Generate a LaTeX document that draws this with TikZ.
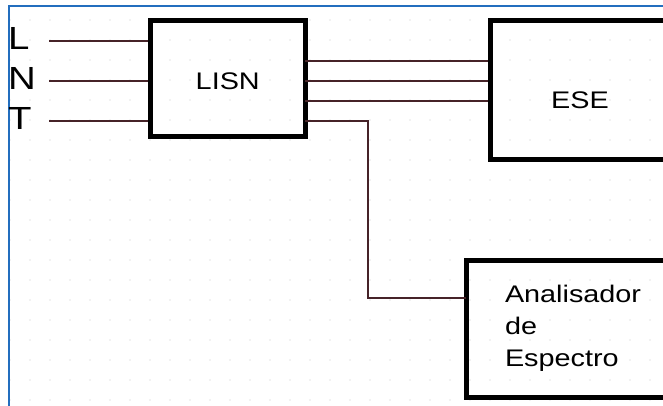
\documentclass[tikz,border=0pt]{standalone}
\usepackage{fontspec}
\setmainfont{Liberation Sans}
\newfontfamily\diafont[FakeStretch=1.2]{Liberation Sans}
\definecolor{wirecol}{RGB}{70,35,40}
\definecolor{framecol}{RGB}{35,110,190}
\definecolor{dotcol}{RGB}{200,200,200}
\begin{document}
\begin{tikzpicture}[x=1pt,y=-1pt,
  box/.style={draw=black, line width=5pt, rectangle, inner sep=0pt},
  wire/.style={draw=wirecol, line width=1.5pt},
  lbl/.style={font=\diafont\fontsize{32}{32}\selectfont, inner sep=0pt, anchor=west},
  boxtext/.style={font=\diafont\fontsize{24}{32}\selectfont}]
\useasboundingbox (0,0) rectangle (663,406);
\fill[white] (0,0) rectangle (663,406);
\begin{scope}
\clip (0,0) rectangle (663,406);
\foreach \x in {10,30,...,650} {
  \foreach \y in {20,40,...,400} {
    \fill[dotcol] (\x,\y) circle (0.7pt);
  }
}
\draw[framecol, line width=2pt] (9,420) -- (9,6) -- (680,6);
% boxes
\node[box, boxtext, minimum width=154.5pt, minimum height=116pt, text height=21pt, text depth=0pt] (lisn) at (227.75,79) {LISN};
\node[box, boxtext, minimum width=180pt, minimum height=139pt, text height=36pt, text depth=0pt] (ese) at (580,90.5) {ESE};
\node[box, boxtext, minimum width=214pt, minimum height=137.5pt, text width=136pt, align=left] (ana) at (573,328.75) {Analisador\\de\\Espectro};
% labels
\node[lbl] (lL) at (8,38) {L};
\node[lbl] (lN) at (8,78) {N};
\node[lbl] (lT) at (8,118) {T};
% input wires
\coordinate (inL) at (49,41);
\coordinate (inN) at (49,81);
\coordinate (inT) at (49,121);
\draw[wire] (inL) -- (inL -| lisn.west);
\draw[wire] (inN) -- (inN -| lisn.west);
\draw[wire] (inT) -- (inT -| lisn.west);
% output wires
\coordinate (o1) at (305,61);
\coordinate (o2) at (305,81);
\coordinate (o3) at (305,101);
\coordinate (o4) at (305,121);
\draw[wire] (o1) -- (o1 -| ese.west);
\draw[wire] (o2) -- (o2 -| ese.west);
\draw[wire] (o3) -- (o3 -| ese.west);
\coordinate (bend) at (368,121);
\coordinate (anain) at (466,298);
\draw[wire] (o4) -- (bend) |- (anain);
\end{scope}
\end{tikzpicture}
\end{document}
